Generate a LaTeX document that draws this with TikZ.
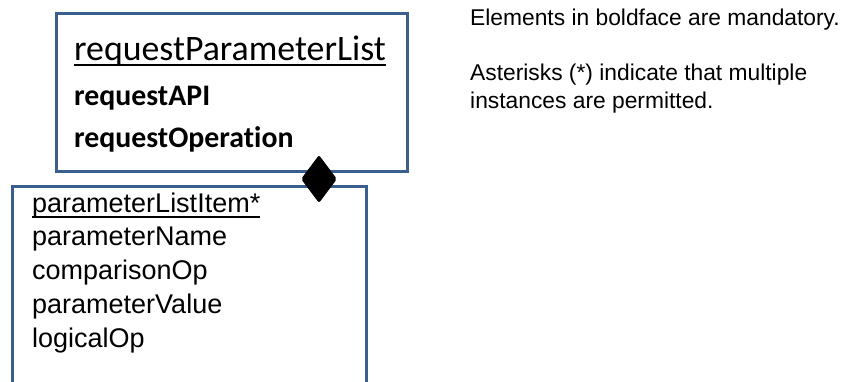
\documentclass[tikz,border=0pt]{standalone}
\usepackage{fontspec}
\setmainfont{Liberation Sans}
\newfontfamily\calibri[Ligatures=NoCommon]{Carlito}
\usetikzlibrary{shapes.geometric}
\definecolor{marco}{HTML}{3A5F8E}
\tikzset{
  caja/.style={draw=marco, line width=3pt, fill=white, inner sep=0pt, anchor=north west},
  texto/.style={anchor=base west, inner sep=0pt},
  subrayado/.style={line width=1.6pt},
  titulo/.style={texto, font=\calibri\fontsize{35.8}{40}\selectfont},
  obligatorio/.style={texto, font=\calibri\bfseries\fontsize{29.8}{33}\selectfont},
  campo/.style={texto, font=\fontsize{27}{30}\selectfont},
  nota/.style={texto, font=\fontsize{22.8}{26}\selectfont},
}
\begin{document}
\begin{tikzpicture}[x=1pt,y=-1pt]
    % parámetros
    \def\xa{74}      % margen del texto superior
    \def\xb{32}      % margen del texto inferior
    \def\paso{33.8}  % interlineado de la caja inferior
    \useasboundingbox (0,0) rectangle (844,381);
    \clip (0,0) rectangle (844,381);

    %—————— Caja superior ——————————————————————————————————————————————————
    \node[caja, minimum width=351pt, minimum height=158pt] (lista) at (55,12) {};
    \node[titulo] (nombre) at (\xa,60) {requestParameterList};
    \draw[subrayado] ([yshift=-5pt]nombre.base west) -- ([yshift=-5pt]nombre.base east);
    \node[obligatorio] (api) at (\xa,105) {requestAPI};
    \node[obligatorio] (operacion) at (\xa,147) {requestOperation};

    %—————— Caja inferior —————————————————————————————————————————————————
    \node[caja, minimum width=354pt, minimum height=240pt] (item) at (11,185) {};
    \node[campo] (elemento) at (\xb,212) {parameterListItem*};
    \draw[subrayado] ([yshift=-5pt]elemento.base west) -- ([yshift=-5pt]elemento.base east);
    \foreach \nom [count=\i] in {parameterName, comparisonOp, parameterValue, logicalOp}
      \node[campo] (campo\i) at (\xb,{212+\i*\paso}) {\nom};

    % rombo de agregación entre las cajas
    \node[diamond, fill=black, minimum width=36pt, minimum height=48pt, inner sep=0pt,
          rounded corners=2pt] (rombo) at (319,179) {};

    %—————— Notas ——————————————————————————————————————————————————————————
    \node[nota] (nota1) at (470,25) {Elements in boldface are mandatory.};
    \node[nota] (nota2) at (470,80) {Asterisks (*) indicate that multiple};
    \node[nota] (nota3) at (470,108) {instances are permitted.};

\end{tikzpicture}
\end{document}
